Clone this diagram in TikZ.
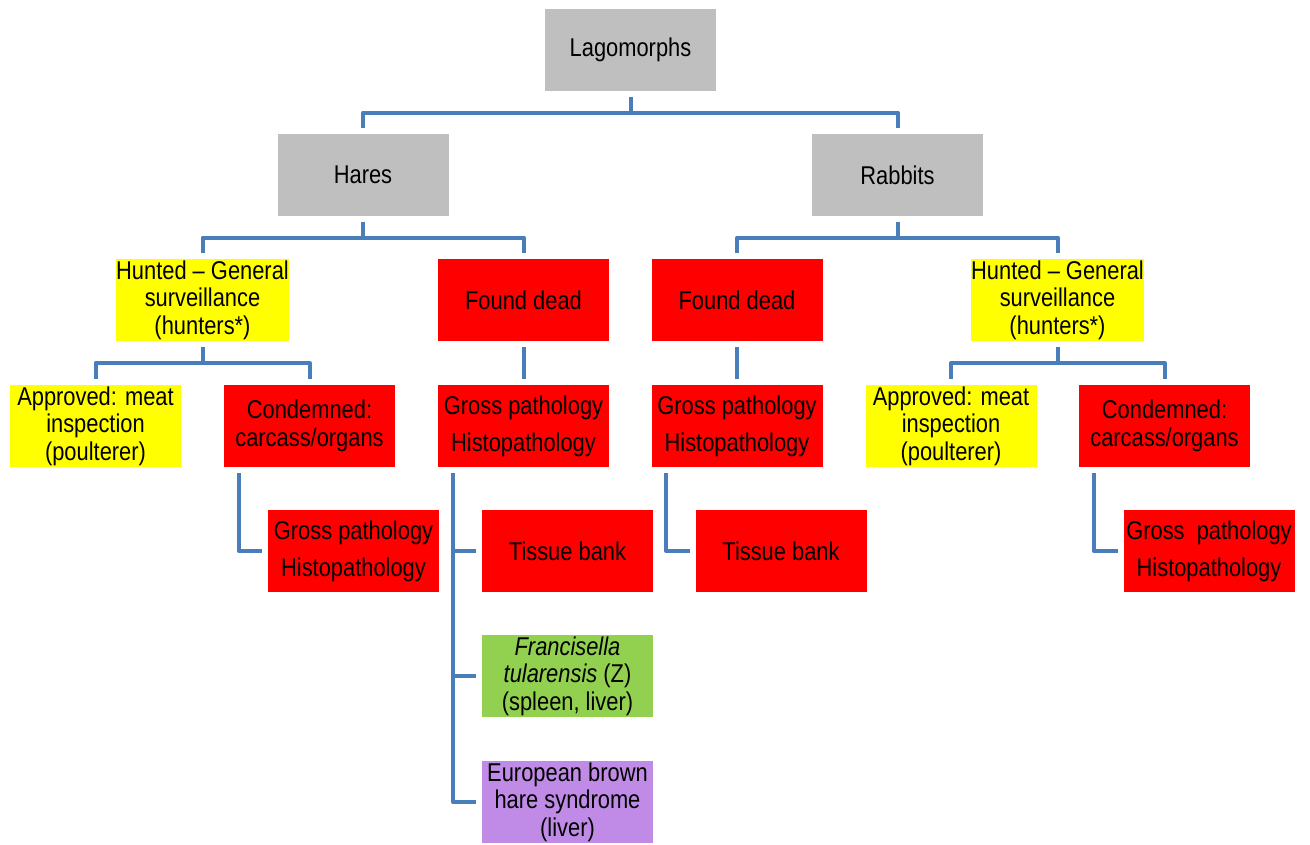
\documentclass[tikz,border=0pt]{standalone}
\usepackage{fontspec}
\setmainfont{Liberation Sans}[FakeStretch=0.85]
\usetikzlibrary{calc}
\definecolor{boxgray}{HTML}{BFBFBF}
\definecolor{boxyellow}{HTML}{FFFF00}
\definecolor{boxred}{HTML}{FF0000}
\definecolor{boxgreen}{HTML}{92D050}
\definecolor{boxpurple}{HTML}{C08BE6}
\definecolor{linkblue}{HTML}{4A7EBB}
\tikzset{
  box/.style={minimum width=128.25pt, minimum height=61.5pt, inner sep=0pt,
    align=center, font=\fontsize{19.3}{20.6}\selectfont, draw=none},
  graybox/.style={box, fill=boxgray},
  yellowbox/.style={box, fill=boxyellow},
  redbox/.style={box, fill=boxred},
  greenbox/.style={box, fill=boxgreen},
  purplebox/.style={box, fill=boxpurple},
  link/.style={draw=linkblue, line width=3pt, line join=round}
}
\begin{document}
\begin{tikzpicture}[x=0.75pt, y=-0.75pt]
\useasboundingbox (0,0) rectangle (1310,844);

% top levels
\node[graybox] (lag) at (630.5,50) {Lagomorphs};
\node[graybox] (hares) at (363,175) {Hares};
\node[graybox] (rabbits) at (897.5,175) {Rabbits};

% second level
\node[yellowbox] (huntL) at (202.5,300) {Hunted -- General\\surveillance\\(hunters*)};
\node[redbox] (deadL) at (523.5,300) {Found dead};
\node[redbox] (deadR) at (737,300) {Found dead};
\node[yellowbox] (huntR) at (1057.5,300) {Hunted -- General\\surveillance\\(hunters*)};

% third level
\node[yellowbox] (apprL) at (95.5,426) {Approved: meat\\inspection\\(poulterer)};
\node[redbox] (condL) at (309.5,426) {Condemned:\\carcass/organs};
\node[redbox] (gpH) at (523.5,426) {Gross pathology\\[7pt]Histopathology};
\node[redbox] (gpR) at (737,426) {Gross pathology\\[7pt]Histopathology};
\node[yellowbox] (apprR) at (951,426) {Approved: meat\\inspection\\(poulterer)};
\node[redbox] (condR) at (1164.5,426) {Condemned:\\carcass/organs};

% leaves
\node[redbox] (gpL2) at (353.5,551) {Gross pathology\\[7pt]Histopathology};
\node[redbox] (tbH) at (567.5,551) {Tissue bank};
\node[redbox] (tbR) at (781,551) {Tissue bank};
\node[redbox] (gpR2) at (1209,551) {Gross\ \ pathology\\[7pt]Histopathology};
\node[greenbox] (fran) at (567.5,676) {\itshape Francisella\\\itshape tularensis\upshape\ (Z)\\(spleen, liver)};
\node[purplebox] (ebhs) at (567.5,802) {European brown\\hare syndrome\\(liver)};

% bus points halfway between parent and children
\coordinate (b0) at ($(lag.south)!0.5!(lag.south |- hares.north)$);
\coordinate (b1) at ($(hares.south)!0.5!(hares.south |- huntL.north)$);
\coordinate (b2) at ($(rabbits.south)!0.5!(rabbits.south |- deadR.north)$);
\coordinate (b3) at ($(huntL.south)!0.5!(huntL.south |- apprL.north)$);
\coordinate (b4) at ($(huntR.south)!0.5!(huntR.south |- apprR.north)$);

\draw[link] ([yshift=-4pt]lag.south) -- (b0);
\draw[link] ([yshift=4pt]hares.north) |- (b0) -| ([yshift=4pt]rabbits.north);

\draw[link] ([yshift=-4pt]hares.south) -- (b1);
\draw[link] ([yshift=4pt]huntL.north) |- (b1) -| ([yshift=4pt]deadL.north);

\draw[link] ([yshift=-4pt]rabbits.south) -- (b2);
\draw[link] ([yshift=4pt]deadR.north) |- (b2) -| ([yshift=4pt]huntR.north);

\draw[link] ([yshift=-4.5pt]huntL.south) -- (b3);
\draw[link] ([yshift=4.5pt]apprL.north) |- (b3) -| ([yshift=4.5pt]condL.north);

\draw[link] ([yshift=-4.5pt]huntR.south) -- (b4);
\draw[link] ([yshift=4.5pt]apprR.north) |- (b4) -| ([yshift=4.5pt]condR.north);

\draw[link] ([yshift=-4.5pt]deadL.south) -- ([yshift=4.5pt]gpH.north);
\draw[link] ([yshift=-4.5pt]deadR.south) -- ([yshift=4.5pt]gpR.north);

% elbow connectors
\draw[link] ([xshift=11.25pt,yshift=-4.5pt]condL.south west) |- ([xshift=-4pt]gpL2.west);
\draw[link] ([xshift=11.25pt,yshift=-4.5pt]condR.south west) |- ([xshift=-4pt]gpR2.west);
\draw[link] ([xshift=11.25pt,yshift=-4.5pt]gpR.south west) |- ([xshift=-4pt]tbR.west);

% spine from the hares' pathology box
\coordinate (spine) at ([xshift=11.25pt]gpH.south west);
\draw[link] ([yshift=-4.5pt]spine) |- ([xshift=-4.5pt]ebhs.west);
\draw[link] (spine |- tbH.west) -- ([xshift=-4.5pt]tbH.west);
\draw[link] (spine |- fran.west) -- ([xshift=-4.5pt]fran.west);
\end{tikzpicture}
\end{document}
